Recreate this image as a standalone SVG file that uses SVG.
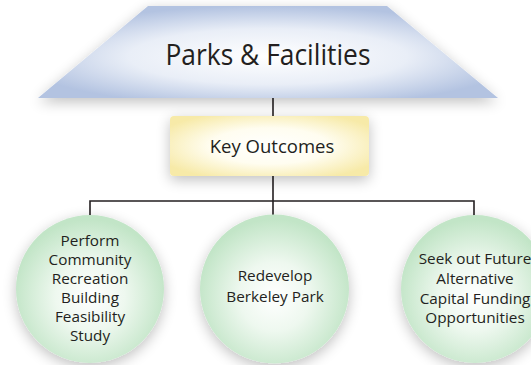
<svg xmlns="http://www.w3.org/2000/svg" width="531" height="365" viewBox="0 0 531 365">
<defs>
<radialGradient id="gBlue" cx="50%" cy="55%" r="55%">
<stop offset="0" stop-color="#ffffff"/>
<stop offset="0.55" stop-color="#e9eef7"/>
<stop offset="1" stop-color="#b3c3e1"/>
</radialGradient>
<radialGradient id="gYellow" cx="50%" cy="50%" r="60%">
<stop offset="0" stop-color="#ffffff"/>
<stop offset="0.5" stop-color="#fffdf0"/>
<stop offset="1" stop-color="#f7eaa8"/>
</radialGradient>
<radialGradient id="gGreen" cx="50%" cy="55%" r="52%">
<stop offset="0" stop-color="#ffffff"/>
<stop offset="0.45" stop-color="#eef8ef"/>
<stop offset="1" stop-color="#c2e5c7"/>
</radialGradient>
<filter id="sh" x="-30%" y="-30%" width="160%" height="160%">
<feGaussianBlur in="SourceAlpha" stdDeviation="7"/>
<feOffset dx="0" dy="4"/>
<feComponentTransfer><feFuncA type="linear" slope="0.25"/></feComponentTransfer>
<feMerge><feMergeNode/><feMergeNode in="SourceGraphic"/></feMerge>
</filter>
</defs>
<style>
text{font-family:"Open Sans","Noto Sans","Liberation Sans",sans-serif;fill:#231f20;text-anchor:middle}
.c{font-size:15.3px}
.ln{stroke:#231f20;stroke-width:1.6;fill:none}
</style>
<g id="connectors">
<line class="ln" x1="273" y1="98" x2="273" y2="116"/>
<line class="ln" x1="273" y1="176" x2="273" y2="216"/>
<polyline class="ln" points="90,216 90,201 474,201 474,216"/>
</g>
<g id="parks">
<polygon points="148,6 387,6 498,98 38,98" fill="url(#gBlue)" filter="url(#sh)"/>
<text x="268" y="65" style="font-size:29px" textLength="205" lengthAdjust="spacingAndGlyphs">Parks &amp; Facilities</text>
</g>
<g id="key">
<rect x="170" y="116" width="199" height="60" rx="4" fill="url(#gYellow)" filter="url(#sh)"/>
<text x="272" y="153" style="font-size:18.5px">Key Outcomes</text>
</g>
<g id="n1">
<circle cx="90" cy="289" r="74" fill="url(#gGreen)" filter="url(#sh)"/>
<text class="c" x="90" y="246">Perform</text>
<text class="c" x="90" y="265">Community</text>
<text class="c" x="90" y="284">Recreation</text>
<text class="c" x="90" y="303">Building</text>
<text class="c" x="90" y="322">Feasibility</text>
<text class="c" x="90" y="341">Study</text>
</g>
<g id="n2">
<circle cx="274.5" cy="289" r="74.5" fill="url(#gGreen)" filter="url(#sh)"/>
<text class="c" x="275" y="281">Redevelop</text>
<text class="c" x="275" y="302">Berkeley Park</text>
</g>
<g id="n3">
<circle cx="475" cy="289" r="74" fill="url(#gGreen)" filter="url(#sh)"/>
<text class="c" x="475" y="264">Seek out Future</text>
<text class="c" x="475" y="284">Alternative</text>
<text class="c" x="475" y="304">Capital Funding</text>
<text class="c" x="475" y="323">Opportunities</text>
</g>
</svg>
